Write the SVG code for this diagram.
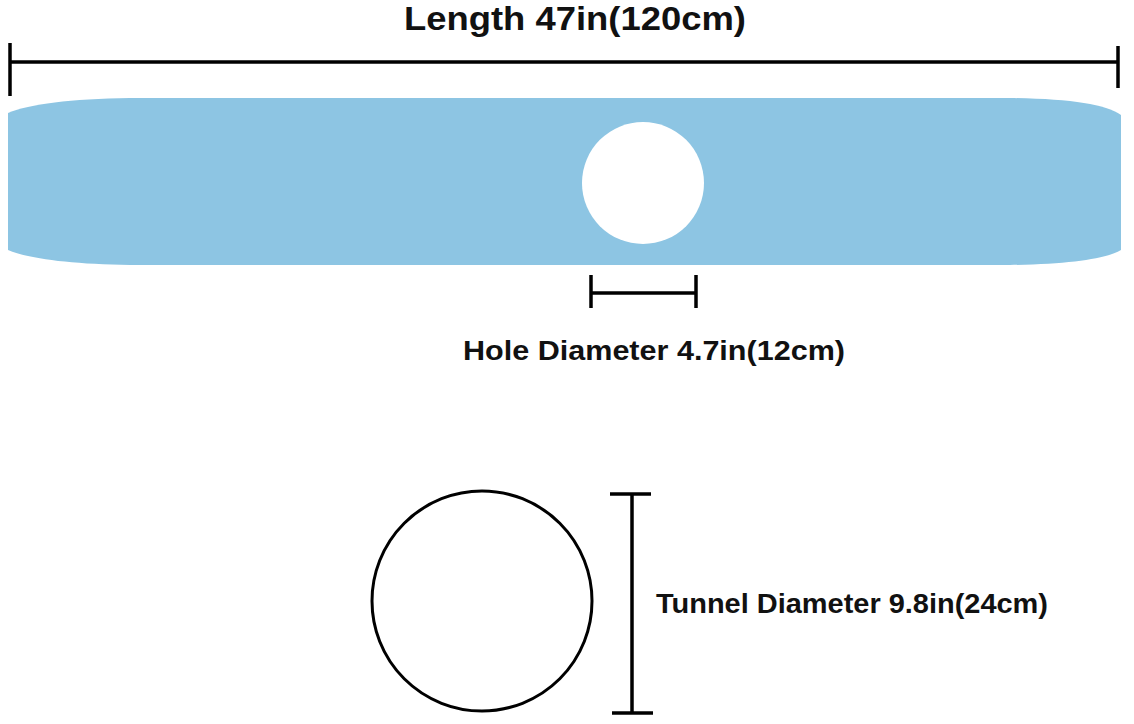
<svg xmlns="http://www.w3.org/2000/svg" width="1134" height="724" viewBox="0 0 1134 724">
  <style>
    .lbl { font-family: "Liberation Sans", Arial, sans-serif; font-weight: bold; fill: #111; }
    .dim { stroke: #000; stroke-width: 3.5; fill: none; }
  </style>
  <rect width="1134" height="724" fill="#fff"/>
  <g id="band">
    <path d="M8,113 C30,104 70,99 130,98 L1010,98 C1070,99 1105,104 1121,115 L1121,250 C1105,259 1070,264 1010,265 L130,265 C70,264 30,259 8,250 Z" fill="#8dc5e3"/>
    <circle cx="643" cy="183" r="61" fill="#fff"/>
  </g>
  <g id="length-dimension">
    <line class="dim" x1="10" y1="62" x2="1118" y2="62"/>
    <line class="dim" x1="10" y1="43" x2="10" y2="96" stroke-width="4.5"/>
    <line class="dim" x1="1118" y1="46" x2="1118" y2="88" stroke-width="4.5"/>
    <text class="lbl" x="404" y="30" font-size="33" textLength="342" lengthAdjust="spacingAndGlyphs">Length 47in(120cm)</text>
  </g>
  <g id="hole-dimension">
    <line class="dim" x1="591" y1="293" x2="696" y2="293" stroke-width="3"/>
    <line class="dim" x1="591" y1="275" x2="591" y2="308" stroke-width="3"/>
    <line class="dim" x1="696" y1="275" x2="696" y2="308" stroke-width="3"/>
    <text class="lbl" x="463" y="360" font-size="28" textLength="382" lengthAdjust="spacingAndGlyphs">Hole Diameter 4.7in(12cm)</text>
  </g>
  <g id="tunnel">
    <circle cx="482" cy="601" r="110" fill="none" stroke="#000" stroke-width="3"/>
  </g>
  <g id="tunnel-dimension">
    <line class="dim" x1="632" y1="494" x2="632" y2="713" stroke-width="3"/>
    <line class="dim" x1="610" y1="494" x2="651" y2="494" stroke-width="3"/>
    <line class="dim" x1="612" y1="713" x2="653" y2="713" stroke-width="3"/>
    <text class="lbl" x="656" y="613" font-size="28" textLength="392" lengthAdjust="spacingAndGlyphs">Tunnel Diameter 9.8in(24cm)</text>
  </g>
</svg>
